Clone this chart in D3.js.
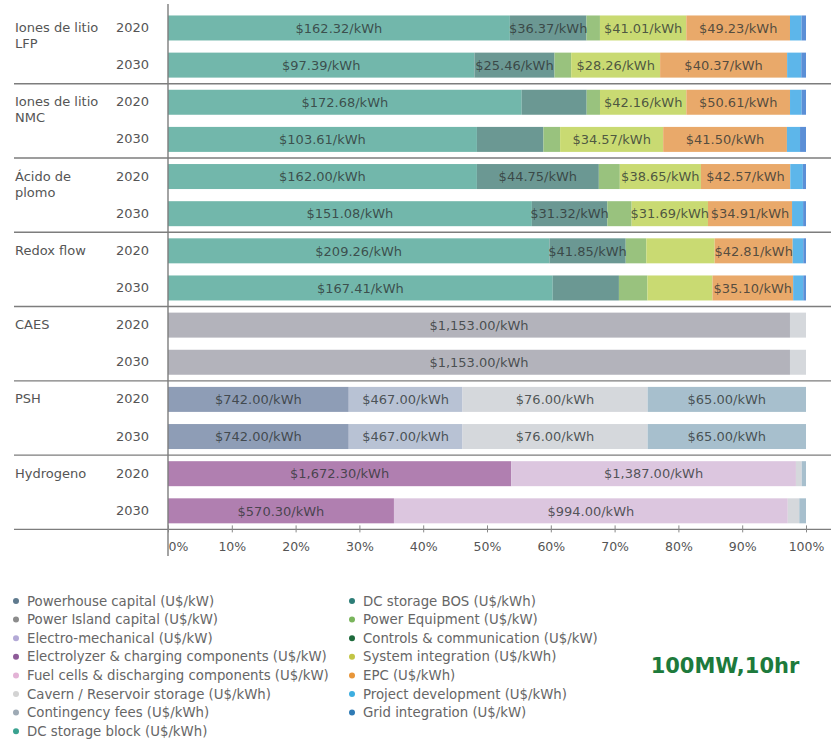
<!DOCTYPE html>
<html><head><meta charset="utf-8">
<script src="https://cdn.jsdelivr.net/npm/d3@7"></script>
<style>body{margin:0;background:#fff}svg{display:block}</style>
</head><body><svg id="c" width="831" height="741"></svg>
<script>
// ---------- DATA ----------
const techGroups = [["Iones de litio","LFP"],["Iones de litio","NMC"],["Ácido de","plomo"],["Redox flow"],["CAES"],["PSH"],["Hydrogeno"]];
const years = ["2020","2030"];
const seriesNames = [
  "Powerhouse capital (U$/kW)","Power Island capital (U$/kW)","Electro-mechanical (U$/kW)",
  "Electrolyzer & charging components (U$/kW)","Fuel cells & discharging components (U$/kW)",
  "Cavern / Reservoir storage (U$/kWh)","Contingency fees (U$/kWh)","DC storage block (U$/kWh)",
  "DC storage BOS (U$/kWh)","Power Equipment (U$/kW)","Controls & communication (U$/kW)",
  "System integration (U$/kWh)","EPC (U$/kWh)","Project development (U$/kWh)","Grid integration (U$/kW)"];
// rows: LFP20, LFP30, NMC20, NMC30, PbA20, PbA30, Redox20, Redox30, CAES20, CAES30, PSH20, PSH30, H2 20, H2 30
const powerhouse   = [0,0,0,0,0,0,0,0,0,0,742,742,0,0];
const powerIsland  = [0,0,0,0,0,0,0,0,1153,1153,0,0,0,0];
const electroMech  = [0,0,0,0,0,0,0,0,0,0,467,467,0,0];
const electrolyzer = [0,0,0,0,0,0,0,0,0,0,0,0,1672.3,570.3];
const fuelCells    = [0,0,0,0,0,0,0,0,0,0,0,0,1387,994];
const cavern       = [0,0,0,0,0,0,0,0,29.7,29.7,760,760,28,29];
const contingency  = [0,0,0,0,0,0,0,0,0,0,650,650,21,17];
const dcBlock      = [162.32,97.39,172.68,103.61,147.2,151.08,209.26,167.41,0,0,0,0,0,0];
const dcBOS        = [36.37,25.46,31.7,22.3,58.1,31.32,41.85,28.8,0,0,0,0,0,0];
const powerEquip   = [6.4,5.3,6.5,5.6,10,10.1,11.3,12.4,0,0,0,0,0,0];
const controls     = [0,0,0,0,0,0,0,0,0,0,0,0,0,0];
const sysInt       = [41.01,28.26,42.16,34.57,38.65,31.69,37.5,28.3,0,0,0,0,0,0];
const epc          = [49.23,40.37,50.61,41.50,42.57,34.91,42.81,35.10,0,0,0,0,0,0];
const projDev      = [5.5,4.5,5.7,4.4,6,4.6,5.8,4.4,0,0,0,0,0,0];
const gridInt      = [2.1,1.5,2.1,2.0,1.5,1.2,1.5,1.2,0,0,0,0,0,0];
const seriesValues = [powerhouse,powerIsland,electroMech,electrolyzer,fuelCells,cavern,contingency,
  dcBlock,dcBOS,powerEquip,controls,sysInt,epc,projDev,gridInt];
// labels printed on the bars: [series index, text]
const segLabels = [
  [[7,"$162.32/kWh"],[8,"$36.37/kWh"],[11,"$41.01/kWh"],[12,"$49.23/kWh"]],
  [[7,"$97.39/kWh"],[8,"$25.46/kWh"],[11,"$28.26/kWh"],[12,"$40.37/kWh"]],
  [[7,"$172.68/kWh"],[11,"$42.16/kWh"],[12,"$50.61/kWh"]],
  [[7,"$103.61/kWh"],[11,"$34.57/kWh"],[12,"$41.50/kWh"]],
  [[7,"$162.00/kWh"],[8,"$44.75/kWh"],[11,"$38.65/kWh"],[12,"$42.57/kWh"]],
  [[7,"$151.08/kWh"],[8,"$31.32/kWh"],[11,"$31.69/kWh"],[12,"$34.91/kWh"]],
  [[7,"$209.26/kWh"],[8,"$41.85/kWh"],[12,"$42.81/kWh"]],
  [[7,"$167.41/kWh"],[12,"$35.10/kWh"]],
  [[1,"$1,153.00/kWh"]],
  [[1,"$1,153.00/kWh"]],
  [[0,"$742.00/kWh"],[2,"$467.00/kWh"],[5,"$76.00/kWh"],[6,"$65.00/kWh"]],
  [[0,"$742.00/kWh"],[2,"$467.00/kWh"],[5,"$76.00/kWh"],[6,"$65.00/kWh"]],
  [[3,"$1,672.30/kWh"],[4,"$1,387.00/kWh"]],
  [[3,"$570.30/kWh"],[4,"$994.00/kWh"]]
];
const tickValues = [0,0.1,0.2,0.3,0.4,0.5,0.6,0.7,0.8,0.9,1];
const badge = "100MW,10hr";

// ---------- STYLE ----------
const barColors = ["#8e9db6","#b3b3bb","#b8c2d4","#b07fb0","#dcc6df","#d5d8dc","#a7bfcd",
  "#72b7ab","#6b9893","#99c27e","#3f7f55","#c9da72","#e9a96a","#5db6ea","#5b8fd6"];
const dotColors = ["#5f7a8e","#8c8c8c","#b3a9d6","#8e5b98","#e3b3d6","#d3d3d3","#9eaab5",
  "#3aa290","#2d7d77","#7ab55c","#1e6a3c","#c2c545","#e8963a","#3daee0","#2f7bb5"];
const FONT = "DejaVu Sans, sans-serif";

const svg = d3.select("#c").style("font-family", FONT);
const nRows = techGroups.length * years.length;
const rows = d3.range(nRows).map(i => {
  const o = {row: i};
  seriesValues.forEach((s, k) => o[k] = s[i]);
  return o;
});
const keys = d3.range(seriesNames.length);
const stacked = d3.stack().keys(keys).offset(d3.stackOffsetExpand)(rows);

const x = d3.scaleLinear().domain([0, 1]).range([168, 806]);
const y = d3.scaleBand().domain(d3.range(nRows)).range([9.4, 529.4]).paddingInner(0.327).paddingOuter(0.1635);

// bars
const gBars = svg.append("g");
stacked.forEach((layer, k) => {
  gBars.selectAll(null).data(layer.filter(d => d[1] - d[0] > 0)).join("rect")
    .attr("x", d => x(d[0])).attr("width", d => x(d[1]) - x(d[0]))
    .attr("y", d => y(d.data.row)).attr("height", y.bandwidth())
    .attr("fill", barColors[k]);
});

// bar labels
const labelData = [];
segLabels.forEach((list, r) => list.forEach(([k, t]) => {
  const d = stacked[k][r];
  labelData.push({r, t, cx: (x(d[0]) + x(d[1])) / 2});
}));
svg.append("g").selectAll("text").data(labelData).join("text")
  .attr("x", d => d.cx).attr("y", d => y(d.r) + y.bandwidth() / 2)
  .attr("dy", "0.36em").attr("text-anchor", "middle")
  .attr("font-size", 13).attr("fill", "#2e3434").attr("fill-opacity", 0.8)
  .text(d => d.t);

// separators
const step = y.step();
const y0 = y.range()[0];
const gSep = svg.append("g");
d3.range(1, techGroups.length + 1).forEach(g => {
  const yy = y0 + step * 2 * g;
  gSep.append("line").attr("x1", 14).attr("x2", 831).attr("y1", yy).attr("y2", yy)
    .attr("stroke", "#7d7d7d").attr("stroke-width", 1.4);
});
// vertical axis line
svg.append("line").attr("x1", 168).attr("x2", 168).attr("y1", 4).attr("y2", 556)
  .attr("stroke", "#7d7d7d").attr("stroke-width", 1.4);

// x axis
const axisY = y0 + step * nRows;
const ax = svg.append("g").attr("transform", `translate(0,${axisY})`)
  .call(d3.axisBottom(x).tickValues(tickValues).tickFormat(d3.format(".0%")).tickSize(3));
ax.select(".domain").remove();
ax.selectAll(".tick line").attr("y1", -4).attr("y2", 3).attr("stroke", "#888");
ax.selectAll(".tick text").attr("font-family", FONT).attr("font-size", 12.5).attr("fill", "#555")
  .attr("y", 13).attr("text-anchor", (d, i) => i === 0 ? "start" : "middle");

// row labels
const gLab = svg.append("g").attr("fill", "#555").attr("font-size", 13);
techGroups.forEach((lines, g) => {
  const cy = y(g * 2) + y.bandwidth() / 2;
  const t = gLab.append("text").attr("x", 15).attr("y", cy + 4);
  lines.forEach((ln, j) => t.append("tspan").attr("x", 15).attr("dy", j ? 16 : 0).text(ln));
  years.forEach((yr, j) => {
    gLab.append("text").attr("x", 149).attr("text-anchor", "end")
      .attr("y", y(g * 2 + j) + y.bandwidth() / 2 + 4).text(yr);
  });
});

// legend
const leg = svg.append("g").attr("font-size", 13.3).attr("fill", "#666");
seriesNames.forEach((name, k) => {
  const col = k < 8 ? 0 : 1;
  const idx = k < 8 ? k : k - 8;
  const lx = col ? 352 : 16;
  const ly = 601 + idx * 18.6;
  leg.append("circle").attr("cx", lx).attr("cy", ly).attr("r", 3).attr("fill", dotColors[k]);
  leg.append("text").attr("x", lx + 11).attr("y", ly).attr("dy", "0.35em").text(name);
});

// badge
svg.append("text").attr("x", 725).attr("y", 665).attr("dy", "0.36em").attr("text-anchor", "middle")
  .attr("font-size", 21).attr("font-weight", "bold").attr("fill", "#1d7a3c").text(badge);
</script></body></html>
